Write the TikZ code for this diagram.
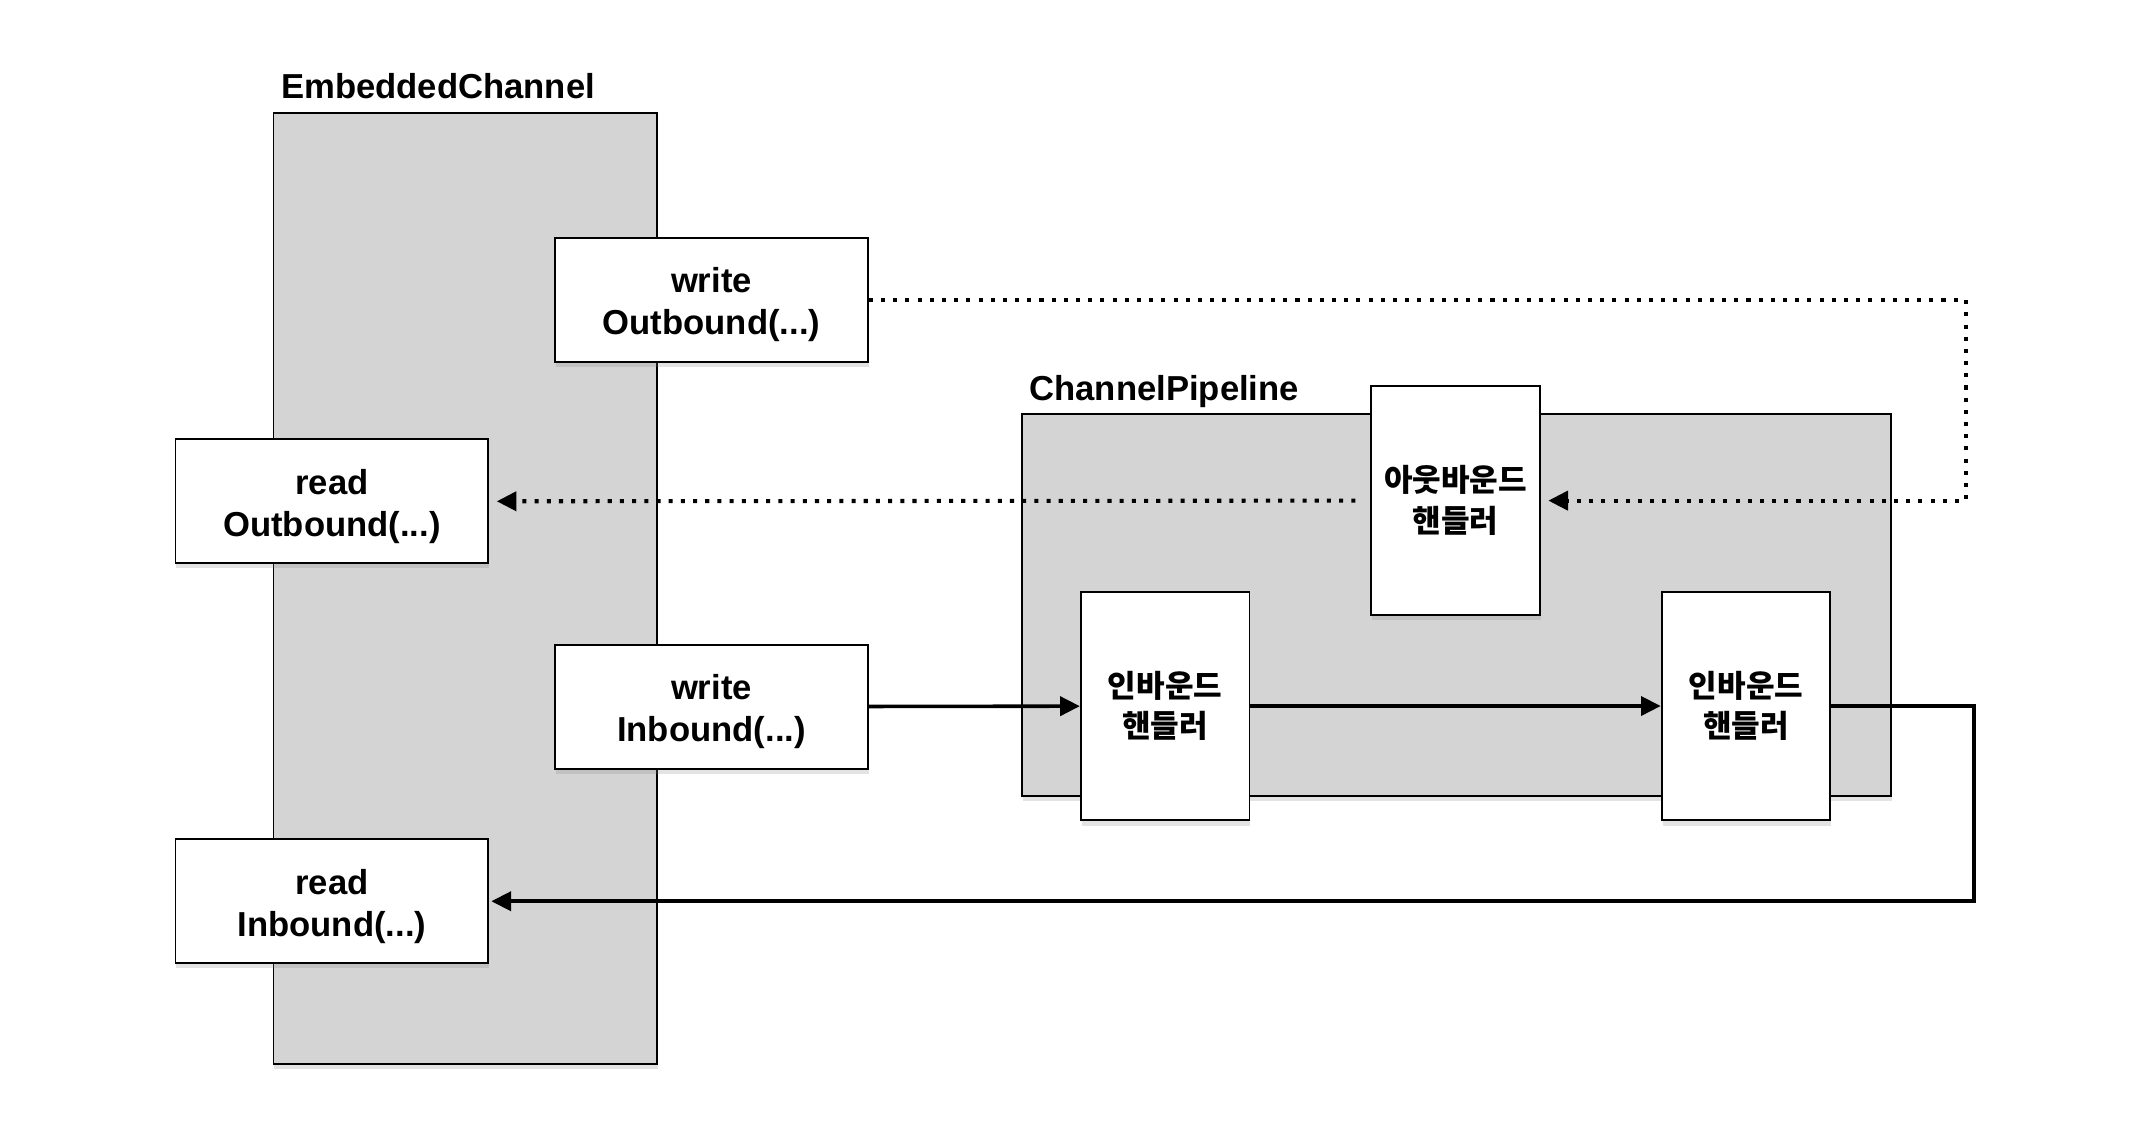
\documentclass[tikz,border=0pt]{standalone}
\usepackage{fontspec}
\setmainfont{Liberation Sans}
\newfontfamily\kofont{Noto Sans CJK KR}
\usetikzlibrary{arrows.meta,shadows,positioning}

\definecolor{boxgray}{RGB}{212,212,212}

\tikzset{
  boxshadow/.style={drop shadow={shadow xshift=0.4pt,shadow yshift=-2.2pt,opacity=0.22}},
  groupbox/.style={draw,fill=boxgray,line width=0.8pt,inner sep=0pt,boxshadow},
  grouptitle/.style={anchor=base west,inner sep=0pt},
  methodbox/.style={draw,fill=white,line width=0.8pt,align=center,
    text height=29.3pt,text depth=0pt,
    minimum width=4.6cm,minimum height=1.82cm,boxshadow},
  handlerbox/.style={draw,fill=white,line width=0.8pt,align=center,
    minimum width=2.48cm,minimum height=3.36cm,boxshadow,
    font=\kofont\fontsize{13}{17}\selectfont\bfseries},
  tip/.tip={Triangle[length=0.29cm,width=0.28cm]},
  flowline/.style={line width=1.5pt,-tip},
  dotline/.style={line width=1.7pt,dash pattern=on 1.7pt off 3.4pt,-tip}
}

\begin{document}
    \begin{tikzpicture}[x=0.02cm,y=-0.02cm,font=\fontsize{14.5}{17.6}\selectfont\bfseries]

      \useasboundingbox (0,0) rectangle (1568,840);

      % the two containers
      \begin{scope}[every node/.style={groupbox}]
        \node[minimum width=5.64cm,minimum height=13.98cm] (emb)  at (342,432.5)  {};
        \node[minimum width=12.78cm,minimum height=5.62cm] (pipe) at (1070.5,444.5) {};
      \end{scope}

      \node[grouptitle] (embtitle)  at ([xshift=0.12cm,yshift=0.2cm]emb.north west)  {EmbeddedChannel};
      \node[grouptitle] (pipetitle) at ([xshift=0.12cm,yshift=0.18cm]pipe.north west) {ChannelPipeline};

      \begin{scope}[every node/.style={methodbox}]
        \node (wout) at (523,220.5) {write\\Outbound(...)};
        \node (rout) at (244,368.5) {read\\Outbound(...)};
        \node (win)  at (523,519.5) {write\\Inbound(...)};
        \node (rin)  at (244,662.5) {read\\Inbound(...)};
      \end{scope}

      \begin{scope}[every node/.style={handlerbox}]
        \node (outh) at (1070,368)   {아웃바운드\\핸들러};
        \node (inh1) at (856.5,519)  {인바운드\\핸들러};
        \node (inh2) at (1283.5,519) {인바운드\\핸들러};
      \end{scope}

      \coordinate (outturn) at (1445,0);
      \coordinate (inturn)  at (1451,0);

      % outbound path
      \draw[dotline,shorten >=0.11cm] (wout.east) -| (outturn |- outh.east) -- (outh.east);
      \draw[dotline,shorten <=0.22cm,shorten >=0.11cm] (outh.west) -- (rout.east);

      % inbound path
      \begin{scope}[every edge/.style={draw,flowline}]
        \path (win)  edge (inh1);
        \path (inh1) edge (inh2);
      \end{scope}
      \draw[flowline,shorten >=0.03cm] (inh2.east) -| (inturn |- rin.east) -- (rin.east);

    \end{tikzpicture}
\end{document}
